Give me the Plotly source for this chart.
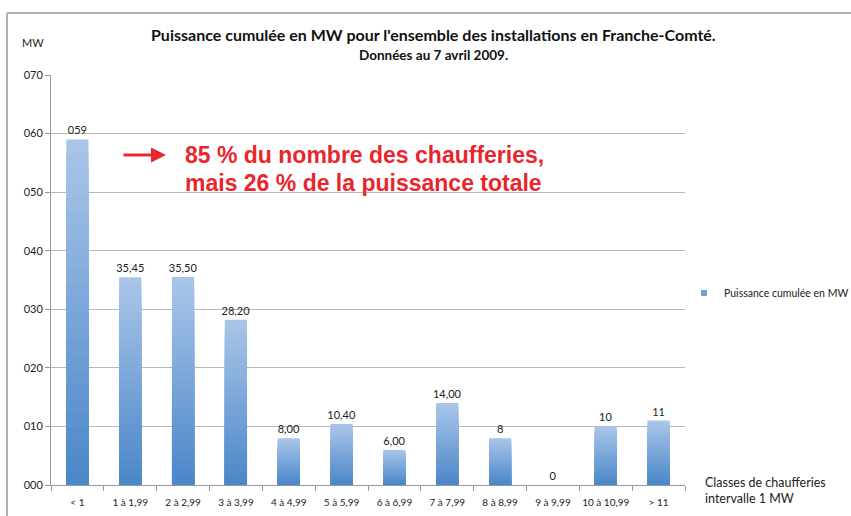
import plotly.graph_objects as go

categories = ["< 1", "1 à 1,99", "2 à 2,99", "3 à 3,99", "4 à 4,99", "5 à 5,99",
              "6 à 6,99", "7 à 7,99", "8 à 8,99", "9 à 9,99", "10 à 10,99", "> 11"]
values = [59, 35.45, 35.50, 28.20, 8.00, 10.40, 6.00, 14.00, 8, 0, 10, 11]
value_labels = ["059", "35,45", "35,50", "28,20", "8,00", "10,40", "6,00",
                "14,00", "8", "0", "10", "11"]
y_ticks = [0, 10, 20, 30, 40, 50, 60, 70]
series_name = "Puissance cumulée en MW"

W, H = 851, 516
L, R, T, B = 51, 166, 75, 31

light = (170, 198, 233)
dark = (74, 134, 200)
N = 24

fig = go.Figure()
for k in range(N):
    f = (k + 0.5) / N
    c = tuple(round(light[i] + (dark[i] - light[i]) * f) for i in range(3))
    fig.add_trace(go.Bar(
        x=categories,
        y=[v * (1 - k / N) for v in values],
        marker=dict(color="rgb(%d,%d,%d)" % c, line=dict(width=0)),
        text=value_labels if k == 0 else None,
        textposition="outside" if k == 0 else "none",
        constraintext="none",
        textfont=dict(family="Lato", size=11, color="#222"),
        cliponaxis=False,
        showlegend=False,
        hoverinfo="skip",
    ))

# legend entry
fig.add_trace(go.Scatter(
    x=[None], y=[None], mode="markers", name=series_name,
    marker=dict(symbol="square", size=6, color="rgb(110,160,215)"),
    showlegend=True,
))

def px_x(px):
    return (px - L) / (W - L - R)

def px_y(py):
    return (H - B - py) / (H - T - B)

fig.update_layout(
    width=W, height=H,
    margin=dict(l=L, r=R, t=T, b=B, pad=0, autoexpand=False),
    paper_bgcolor="white", plot_bgcolor="white",
    barmode="overlay", bargap=0.58,
    font=dict(family="Lato", color="#222"),
    showlegend=True,
    legend=dict(x=px_x(684), y=px_y(293), xanchor="left", yanchor="middle",
                font=dict(family="Lato", size=10.5, color="#222"),
                bgcolor="rgba(0,0,0,0)", itemwidth=30),
    xaxis=dict(
        type="category", tickson="boundaries", ticks="outside", ticklen=5,
        tickcolor="#999", showline=True, linecolor="#999", linewidth=1,
        showgrid=False, tickangle=0,
        tickfont=dict(family="Lato", size=10, color="#222"),
        ticklabelstandoff=8,
    ),
    yaxis=dict(
        range=[0, 70], tickvals=y_ticks, tickformat="03d",
        ticks="outside", ticklen=5, tickcolor="#999",
        showline=True, linecolor="#999", linewidth=1,
        showgrid=True, gridcolor="#b8b8b8", gridwidth=1,
        zeroline=False,
        tickfont=dict(family="Lato", size=11, color="#222"),
    ),
    annotations=[
        dict(xref="paper", yref="paper", x=px_x(433), y=px_y(35),
             text="<b>Puissance cumulée en MW pour l'ensemble des installations en Franche-Comté.</b>",
             showarrow=False, xanchor="center", yanchor="middle",
             font=dict(family="Lato", size=16, color="#111")),
        dict(xref="paper", yref="paper", x=px_x(433), y=px_y(55),
             text="<b>Données au 7 avril 2009.</b>",
             showarrow=False, xanchor="center", yanchor="middle",
             font=dict(family="Lato", size=13.5, color="#111")),
        dict(xref="paper", yref="paper", x=px_x(33), y=px_y(43),
             text="MW", showarrow=False, xanchor="center", yanchor="middle",
             font=dict(family="Lato", size=11, color="#222")),
        dict(xref="paper", yref="paper", x=px_x(183), y=px_y(155),
             text="<b>85 % du nombre des chaufferies,</b>",
             showarrow=False, xanchor="left", yanchor="middle", align="left",
             font=dict(family="Liberation Sans", size=23, color="#e8262b")),
        dict(xref="paper", yref="paper", x=px_x(183), y=px_y(183),
             text="<b>mais 26 % de la puissance totale</b>",
             showarrow=False, xanchor="left", yanchor="middle", align="left",
             font=dict(family="Liberation Sans", size=23, color="#e8262b")),
        dict(xref="paper", yref="paper", x=px_x(166), y=px_y(155),
             ax=-44, ay=0, text="", showarrow=True,
             arrowhead=2, arrowsize=1, arrowwidth=3, arrowcolor="#e8262b"),
        dict(xref="paper", yref="paper", x=px_x(703), y=px_y(490),
             text="Classes de chaufferies<br>intervalle 1 MW", showarrow=False,
             xanchor="left", yanchor="middle", align="left",
             font=dict(family="Lato", size=12.5, color="#222")),
    ],
    shapes=[
        dict(type="line", xref="paper", yref="paper",
             x0=px_x(7), x1=px_x(851), y0=px_y(13), y1=px_y(13),
             line=dict(color="#b0b0b0", width=2)),
        dict(type="line", xref="paper", yref="paper",
             x0=px_x(7), x1=px_x(7), y0=px_y(13), y1=px_y(516),
             line=dict(color="#b0b0b0", width=2)),
    ],
)

fig.write_html("out.html",
               config={"displayModeBar": False},
               post_script="document.body.style.margin='0';document.body.style.padding='0';")
